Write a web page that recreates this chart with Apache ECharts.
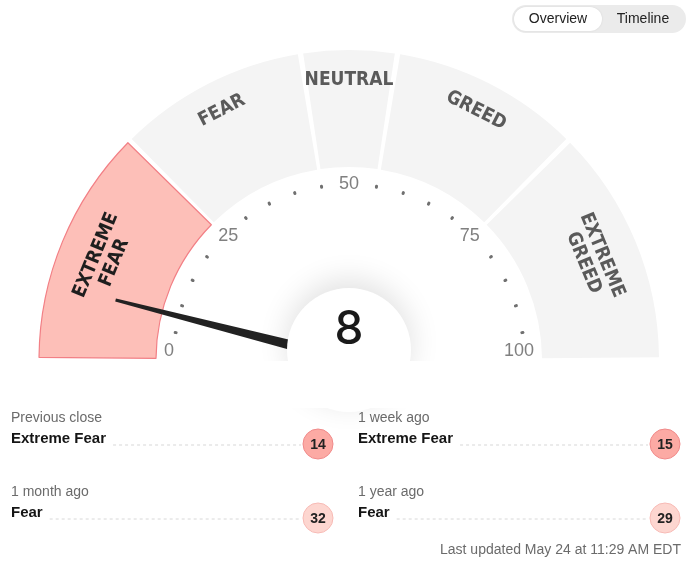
<!DOCTYPE html>
<html>
<head>
<meta charset="utf-8">
<script src="https://cdn.jsdelivr.net/npm/echarts@6/dist/echarts.min.js"></script>
<style>
  html, body { margin: 0; padding: 0; background: #fff; }
  #main { width: 692px; height: 565px; }
</style>
</head>
<body>
<div id="main"></div>
<script>
// gauge zones
const zoneNames = ['EXTREME\nFEAR', 'FEAR', 'NEUTRAL', 'GREED', 'EXTREME\nGREED'];
const zoneBounds = [0, 25, 45, 55, 75, 100];
const scoreNow = 8;
const axisLabels = [0, 25, 50, 75, 100];
const dotStep = 5;

// history panel
const historyLabels = ['Previous close', '1 week ago', '1 month ago', '1 year ago'];
const historyRatings = ['Extreme Fear', 'Extreme Fear', 'Fear', 'Fear'];
const historyScores = [14, 15, 32, 29];
const lastUpdated = 'Last updated May 24 at 11:29 AM EDT';
const toggleTabs = ['Overview', 'Timeline'];

const CX = 349, CY = 360;
const labelFont = '"DejaVu Sans Condensed", "DejaVu Sans", sans-serif';
const uiFont = '"Liberation Sans", Arial, sans-serif';

function zoneOf(v) {
    for (let i = 0; i < zoneNames.length; i++) {
        if (v < zoneBounds[i + 1]) return i;
    }
    return zoneNames.length - 1;
}
const active = zoneOf(scoreNow);
const toAngle = v => 180 - 180 * v / 100;

// colours of the little score bubbles
const bubbleFill = ['#fcaaa4', '#fdd6d0', '#f4f4f4', '#d6efdf', '#a9dfbd'];
const bubbleLine = ['#f08a8a', '#f7bab5', '#dddddd', '#a8dbbb', '#6fc595'];

const measure = document.createElement('canvas').getContext('2d');
function textWidth(str, font) {
    measure.font = font;
    return measure.measureText(str).width;
}

const chart = echarts.init(document.getElementById('main'));

const bandData = zoneNames.map((n, i) => ({
    name: n,
    value: zoneBounds[i + 1] - zoneBounds[i],
    itemStyle: i === active
        ? { color: '#fdbfb8', borderColor: '#f27f85', borderWidth: 1.2 }
        : { color: '#f4f4f4' }
}));

// captions: one-line names and two-line names sit on slightly different radii
function captionData(twoLine) {
    return zoneNames.map((n, i) => ({
        name: n,
        value: zoneBounds[i + 1] - zoneBounds[i],
        label: {
            show: (n.indexOf('\n') >= 0) === twoLine,
            color: i === active ? '#1e1e1e' : '#5a5a5a'
        }
    }));
}
function captionPie(radius, twoLine) {
    return {
        type: 'pie',
        silent: true,
        z: 2,
        center: [CX, CY],
        radius: radius,
        startAngle: 180,
        endAngle: 0,
        itemStyle: { color: 'rgba(0,0,0,0)' },
        label: {
            show: true,
            position: 'inside',
            rotate: 'tangential',
            formatter: '{b}',
            fontFamily: labelFont,
            fontWeight: 'bold',
            fontSize: 19,
            lineHeight: 20
        },
        labelLine: { show: false },
        data: captionData(twoLine)
    };
}

const hidden = {
    axisLine: { show: false, lineStyle: { width: 0 } },
    splitLine: { show: false, length: 0, distance: 0 },
    axisTick: { show: false },
    axisLabel: { show: false },
    pointer: { show: false },
    anchor: { show: false },
    title: { show: false },
    detail: { show: false }
};

// one dotted gauge between each pair of labelled values
const dotSeries = [];
for (let k = 0; k < axisLabels.length - 1; k++) {
    const lo = axisLabels[k] + dotStep, hi = axisLabels[k + 1] - dotStep;
    dotSeries.push(Object.assign({}, hidden, {
        type: 'gauge',
        silent: true,
        z: 2,
        center: [CX, CY],
        radius: 176,
        startAngle: toAngle(lo),
        endAngle: toAngle(hi),
        min: lo,
        max: hi,
        splitNumber: (hi - lo) / dotStep,
        splitLine: { show: true, length: 1, distance: 0, lineStyle: { color: '#707070', width: 3, cap: 'round' } },
        data: []
    }));
}

// bottom panel built as graphic elements
const graphics = [];
// hide the lower half of the centre disc's glow
graphics.push({ type: 'rect', z: 50, shape: { x: 262, y: 361, width: 174, height: 47 }, style: { fill: '#fff' } });
// toggle
graphics.push({ type: 'rect', shape: { x: 512, y: 5, width: 174, height: 28, r: 14 }, style: { fill: '#ebebeb' } });
graphics.push({ type: 'rect', shape: { x: 514, y: 7, width: 88, height: 24, r: 12 }, style: { fill: '#fff', shadowBlur: 2, shadowColor: 'rgba(0,0,0,0.1)' } });
graphics.push({ type: 'text', x: 558, y: 19, style: { text: toggleTabs[0], font: '14px ' + uiFont, fill: '#222', align: 'center', verticalAlign: 'middle' } });
graphics.push({ type: 'text', x: 643, y: 19, style: { text: toggleTabs[1], font: '14px ' + uiFont, fill: '#222', align: 'center', verticalAlign: 'middle' } });

const colX = [11, 358];
const rowY = [418, 492];
historyLabels.forEach((lab, i) => {
    const x = colX[i % 2];
    const y = rowY[Math.floor(i / 2)];
    const ratingFont = 'bold 15px ' + uiFont;
    const z = zoneOf(historyScores[i]);
    graphics.push({ type: 'text', x: x, y: y, style: { text: lab, font: '14px ' + uiFont, fill: '#6b6b6b', verticalAlign: 'middle' } });
    graphics.push({ type: 'text', x: x, y: y + 21, style: { text: historyRatings[i], font: ratingFont, fill: '#151515', verticalAlign: 'middle' } });
    const lineStart = x + textWidth(historyRatings[i], ratingFont) + 7;
    graphics.push({ type: 'line', shape: { x1: lineStart, y1: y + 27, x2: x + 290, y2: y + 27 }, style: { stroke: '#d8d8d8', lineWidth: 1, lineDash: [3, 3] } });
    graphics.push({ type: 'circle', shape: { cx: x + 307, cy: y + 26, r: 15 }, style: { fill: bubbleFill[z], stroke: bubbleLine[z], lineWidth: 1 } });
    graphics.push({ type: 'text', x: x + 307, y: y + 27, style: { text: String(historyScores[i]), font: 'bold 14px ' + uiFont, fill: '#222', align: 'center', verticalAlign: 'middle' } });
});
graphics.push({ type: 'text', x: 681, y: 550, style: { text: lastUpdated, font: '14px ' + uiFont, fill: '#6b6b6b', align: 'right', verticalAlign: 'middle' } });

const option = {
    animation: false,
    graphic: graphics,
    series: [
        {
            // coloured bands
            type: 'pie',
            silent: true,
            z: 1,
            center: [CX, CY],
            radius: [193, 310],
            startAngle: 180,
            endAngle: 0,
            padAngle: 1,
            label: { show: false },
            labelLine: { show: false },
            data: bandData
        },
        captionPie([253, 301], false),
        captionPie([237, 285], true),
        ...dotSeries,
        Object.assign({}, hidden, {
            // 0 / 25 / 50 / 75 / 100
            type: 'gauge',
            silent: true,
            z: 3,
            center: [CX, CY],
            radius: 185,
            startAngle: 180,
            endAngle: 0,
            min: axisLabels[0],
            max: axisLabels[axisLabels.length - 1],
            splitNumber: axisLabels.length - 1,
            axisLabel: {
                show: true,
                distance: 0,
                color: '#808080',
                fontSize: 18,
                fontFamily: uiFont,
                formatter: v => '{p' + v + '|' + v + '}',
                rich: {
                    p0: { color: '#808080', padding: [0, 0, 18, 0] },
                    p25: { color: '#808080', padding: [14, 0, 0, 0] },
                    p50: { color: '#808080' },
                    p75: { color: '#808080', padding: [14, 0, 0, 0] },
                    p100: { color: '#808080', padding: [0, 0, 18, 0] }
                }
            },
            data: []
        }),
        Object.assign({}, hidden, {
            // needle + centre disc
            type: 'gauge',
            silent: true,
            z: 5,
            center: [CX, CY],
            radius: 241,
            startAngle: 180,
            endAngle: 0,
            min: 0,
            max: 100,
            pointer: {
                show: true,
                icon: 'path://M4.5,0 L7.5,0 L12,100 L0,100 Z',
                length: '100%',
                width: 12,
                keepAspect: false,
                itemStyle: { color: '#222' }
            },
            anchor: {
                show: true,
                showAbove: true,
                size: 124,
                offsetCenter: [0, -10],
                itemStyle: { color: '#fff', shadowBlur: 30, shadowOffsetY: -8, shadowColor: 'rgba(0,0,0,0.12)' }
            },
            data: [{ value: scoreNow }]
        }),
        Object.assign({}, hidden, {
            // centre value
            type: 'gauge',
            silent: true,
            z: 60,
            center: [CX, CY],
            radius: 241,
            startAngle: 180,
            endAngle: 0,
            min: 0,
            max: 100,
            detail: {
                show: true,
                offsetCenter: [0, -30],
                fontSize: 46,
                fontFamily: 'Inter, sans-serif',
                fontWeight: 500,
                color: '#1a1a1a',
                formatter: '{value}'
            },
            data: [{ value: scoreNow }]
        })
    ]
};

chart.setOption(option);
</script>
</body>
</html>
